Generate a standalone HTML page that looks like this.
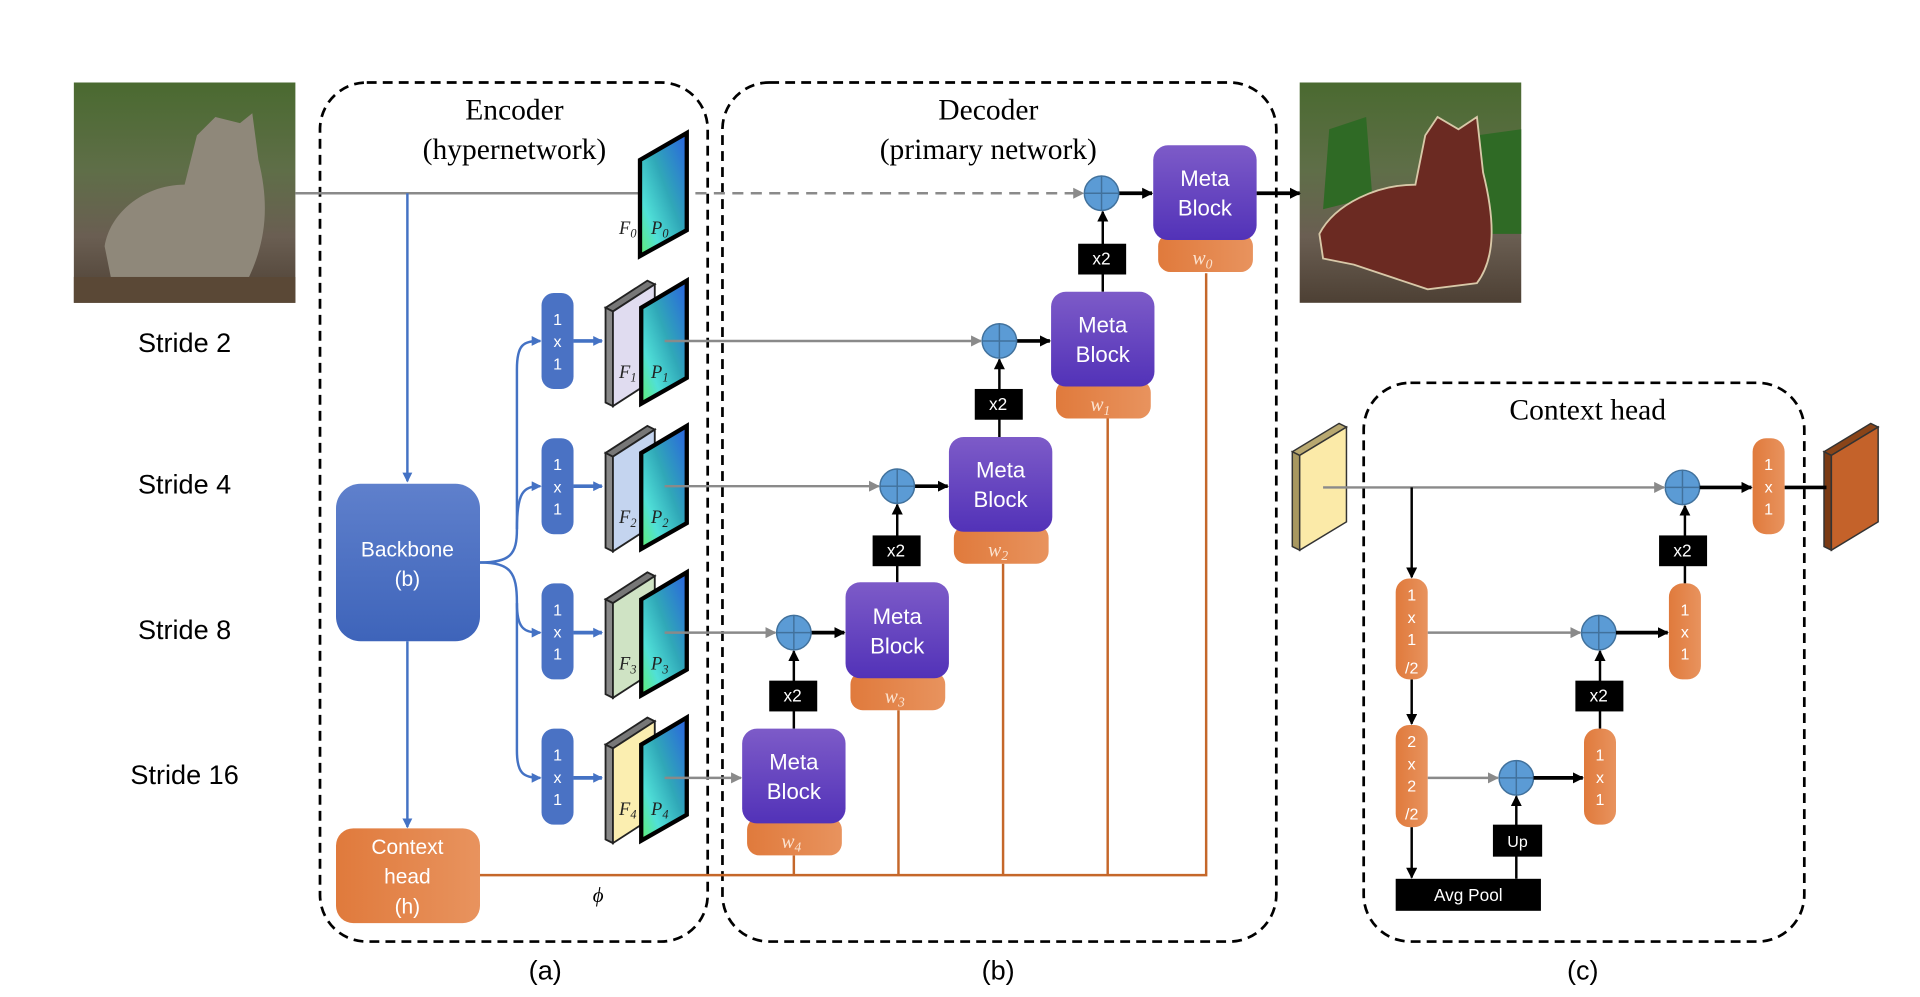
<!DOCTYPE html>
<html><head><meta charset="utf-8"><style>
html,body{margin:0;padding:0;background:#fff}
svg{display:block}
.cal{font-family:"Liberation Sans Narrow","Liberation Sans",sans-serif}
.ser{font-family:"Liberation Serif",serif}
</style></head><body>
<svg width="1920" height="997" viewBox="0 0 1560 810" xmlns="http://www.w3.org/2000/svg">
<defs>
<linearGradient id="pg" x1="1" y1="0" x2="0" y2="1"><stop offset="0" stop-color="#2a62e0"/><stop offset="0.45" stop-color="#30a8b8"/><stop offset="0.75" stop-color="#50e0d8"/><stop offset="1" stop-color="#60f070"/></linearGradient>
<linearGradient id="mb" x1="0" y1="0" x2="0" y2="1"><stop offset="0" stop-color="#7d5bc8"/><stop offset="1" stop-color="#5232b8"/></linearGradient>
<linearGradient id="bb" x1="0" y1="0" x2="0" y2="1"><stop offset="0" stop-color="#5f80cc"/><stop offset="1" stop-color="#3e64ba"/></linearGradient>
<linearGradient id="og" x1="0" y1="0" x2="1" y2="0"><stop offset="0" stop-color="#e07a3c"/><stop offset="1" stop-color="#e8935e"/></linearGradient>
<linearGradient id="cat" x1="0" y1="0" x2="0" y2="1"><stop offset="0" stop-color="#4a6a30"/><stop offset="0.4" stop-color="#5f6e48"/><stop offset="0.7" stop-color="#6a5e52"/><stop offset="1" stop-color="#4d4034"/></linearGradient>
<marker id="ab" markerWidth="8" markerHeight="8" refX="7" refY="4" orient="auto" markerUnits="userSpaceOnUse"><path d="M0,0 L8,4 L0,8z" fill="#4472c4"/></marker>
<marker id="ak" markerWidth="9" markerHeight="9" refX="8" refY="4.5" orient="auto" markerUnits="userSpaceOnUse"><path d="M0,0 L9,4.5 L0,9z" fill="#000"/></marker>
<marker id="ag" markerWidth="9" markerHeight="9" refX="8" refY="4.5" orient="auto" markerUnits="userSpaceOnUse"><path d="M0,0 L9,4.5 L0,9z" fill="#8a8a8a"/></marker>
</defs>

<!-- images -->
<rect x="60" y="67" width="180" height="179" fill="url(#cat)"/>
<ellipse cx="185" cy="150" rx="18" ry="22" fill="#b08050"/>
<path d="M85,200 C90,170 120,150 150,150 L160,110 L175,95 L195,100 L205,92 L210,130 C220,170 215,200 200,230 L90,225z" fill="#8f887a"/>
<rect x="60" y="225" width="180" height="21" fill="#5a4836"/>
<rect x="1056" y="67" width="180" height="179" fill="url(#cat)"/>
<path d="M1080,105 L1110,95 L1115,160 L1075,170z" fill="#2f6a25"/>
<path d="M1200,110 L1236,105 L1236,190 L1205,190z" fill="#2f6a25"/>
<path d="M1072,190 C1085,165 1120,150 1150,150 L1158,110 L1168,95 L1185,105 L1200,95 L1205,140 C1215,180 1215,210 1200,230 L1160,235 L1100,215 L1075,210z" fill="#6b2a22" stroke="#d8c8a8" stroke-width="1.5"/>

<!-- strides -->
<g class="cal" font-size="22" fill="#000" text-anchor="middle">
<text x="150" y="286">Stride 2</text><text x="150" y="401">Stride 4</text>
<text x="150" y="519">Stride 8</text><text x="150" y="637">Stride 16</text>
<text x="443" y="796">(a)</text><text x="811" y="796">(b)</text><text x="1286" y="796">(c)</text>
</g>

<!-- dashed boxes -->
<g fill="none" stroke="#000" stroke-width="2.2" stroke-dasharray="8,5">
<rect x="260" y="67" width="315" height="698" rx="38"/>
<rect x="587" y="67" width="450" height="698" rx="38"/>
<rect x="1108" y="311" width="358" height="454" rx="38"/>
</g>
<g class="ser" font-size="24" text-anchor="middle" fill="#000">
<text x="418" y="97">Encoder</text><text x="418" y="129">(hypernetwork)</text>
<text x="803" y="97">Decoder</text><text x="803" y="129">(primary network)</text>
<text x="1290" y="341">Context head</text>
</g>

<!-- top line -->
<line x1="240" y1="157" x2="520" y2="157" stroke="#8a8a8a" stroke-width="2"/>
<line x1="535" y1="157" x2="880" y2="157" stroke="#8a8a8a" stroke-width="2" stroke-dasharray="9,6" marker-end="url(#ag)"/>

<!-- encoder blue -->
<g stroke="#4472c4" stroke-width="2" fill="none">
<line x1="331" y1="157" x2="331" y2="391" marker-end="url(#ab)"/>
<line x1="331" y1="521" x2="331" y2="672" marker-end="url(#ab)"/>
<path d="M390,457 C415,457 420,450 420,430 L420,300 C420,280 425,277 439,277" marker-end="url(#ab)"/>
<path d="M420,430 C420,400 425,395 439,395" marker-end="url(#ab)"/>
<path d="M390,457 C415,457 420,465 420,490 C420,510 425,514 439,514" marker-end="url(#ab)"/>
<path d="M420,490 L420,610 C420,628 425,632 439,632" marker-end="url(#ab)"/>
<line x1="466" y1="277" x2="489" y2="277" stroke-width="3" marker-end="url(#ab)"/>
<line x1="466" y1="395" x2="489" y2="395" stroke-width="3" marker-end="url(#ab)"/>
<line x1="466" y1="514" x2="489" y2="514" stroke-width="3" marker-end="url(#ab)"/>
<line x1="466" y1="632" x2="489" y2="632" stroke-width="3" marker-end="url(#ab)"/>
</g>
<rect x="273" y="393" width="117" height="128" rx="20" fill="url(#bb)"/>
<text class="cal" x="331" y="452" font-size="17" fill="#fff" text-anchor="middle">Backbone</text>
<text class="cal" x="331" y="476" font-size="17" fill="#fff" text-anchor="middle">(b)</text>
<rect x="273" y="673" width="117" height="77" rx="14" fill="url(#og)"/>
<g class="cal" font-size="17" fill="#fff" text-anchor="middle"><text x="331" y="694">Context</text><text x="331" y="718">head</text><text x="331" y="742">(h)</text></g>

<!-- 1x1 blue -->
<g fill="#4a72c4"><rect x="440" y="238" width="26" height="78" rx="10"/><rect x="440" y="356" width="26" height="78" rx="10"/><rect x="440" y="474" width="26" height="78" rx="10"/><rect x="440" y="592" width="26" height="78" rx="10"/></g>
<g class="cal" font-size="13" fill="#fff" text-anchor="middle">
<text x="453" y="264">1</text><text x="453" y="282">x</text><text x="453" y="300">1</text>
<text x="453" y="382">1</text><text x="453" y="400">x</text><text x="453" y="418">1</text>
<text x="453" y="500">1</text><text x="453" y="518">x</text><text x="453" y="536">1</text>
<text x="453" y="618">1</text><text x="453" y="636">x</text><text x="453" y="654">1</text>
</g>

<!-- plates -->
<g stroke="#222" stroke-width="1.5">
<path d="M492,250 L526,228 L532,231 L498,253z" fill="#777"/><path d="M492,250 L498,253 L498,330 L492,327z" fill="#888"/><path d="M498,253 L532,231 L532,308 L498,330z" fill="#e0dcf0"/>
<path d="M492,368 L526,346 L532,349 L498,371z" fill="#777"/><path d="M492,368 L498,371 L498,448 L492,445z" fill="#888"/><path d="M498,371 L532,349 L532,426 L498,448z" fill="#c4d4ef"/>
<path d="M492,487 L526,465 L532,468 L498,490z" fill="#777"/><path d="M492,487 L498,490 L498,567 L492,564z" fill="#888"/><path d="M498,490 L532,468 L532,545 L498,567z" fill="#cfe3c4"/>
<path d="M492,605 L526,583 L532,586 L498,608z" fill="#777"/><path d="M492,605 L498,608 L498,685 L492,682z" fill="#888"/><path d="M498,608 L532,586 L532,663 L498,685z" fill="#fbeeb0"/>
</g>
<g stroke="#000" stroke-width="3.5" fill="url(#pg)">
<path d="M520,130 L558,108 L558,187 L520,208z"/>
<path d="M521,250 L558,228 L558,307 L521,328z"/>
<path d="M521,368 L558,346 L558,425 L521,446z"/>
<path d="M521,487 L558,465 L558,544 L521,565z"/>
<path d="M521,605 L558,583 L558,662 L521,683z"/>
</g>
<g class="ser" font-style="italic" font-size="15" fill="#222">
<text x="503" y="190">F<tspan font-size="10" dy="3">0</tspan></text><text x="529" y="190">P<tspan font-size="10" dy="3">0</tspan></text>
<text x="503" y="307">F<tspan font-size="10" dy="3">1</tspan></text><text x="529" y="307">P<tspan font-size="10" dy="3">1</tspan></text>
<text x="503" y="425">F<tspan font-size="10" dy="3">2</tspan></text><text x="529" y="425">P<tspan font-size="10" dy="3">2</tspan></text>
<text x="503" y="544">F<tspan font-size="10" dy="3">3</tspan></text><text x="529" y="544">P<tspan font-size="10" dy="3">3</tspan></text>
<text x="503" y="662">F<tspan font-size="10" dy="3">4</tspan></text><text x="529" y="662">P<tspan font-size="10" dy="3">4</tspan></text>
</g>

<!-- grey lines P->circle -->
<g stroke="#8a8a8a" stroke-width="2">
<line x1="540" y1="277" x2="797" y2="277" marker-end="url(#ag)"/>
<line x1="540" y1="395" x2="714" y2="395" marker-end="url(#ag)"/>
<line x1="540" y1="514" x2="630" y2="514" marker-end="url(#ag)"/>
<line x1="540" y1="632" x2="602" y2="632" marker-end="url(#ag)"/>
</g>

<!-- orange lines -->
<g stroke="#c5672a" stroke-width="2" fill="none">
<polyline points="390,711 980,711 980,222"/>
<line x1="645" y1="695" x2="645" y2="711"/><line x1="730" y1="577" x2="730" y2="711"/>
<line x1="815" y1="458" x2="815" y2="711"/><line x1="900" y1="340" x2="900" y2="711"/>
</g>
<text class="ser" font-style="italic" x="486" y="733" font-size="17" text-anchor="middle">ϕ</text>

<!-- black vertical lines with x2 -->
<g stroke="#000" stroke-width="2">
<line x1="896" y1="237" x2="896" y2="172" marker-end="url(#ak)"/>
<line x1="812" y1="355" x2="812" y2="292" marker-end="url(#ak)"/>
<line x1="729" y1="473" x2="729" y2="410" marker-end="url(#ak)"/>
<line x1="645" y1="592" x2="645" y2="529" marker-end="url(#ak)"/>
<line x1="909" y1="157" x2="936" y2="157" stroke-width="3" marker-end="url(#ak)"/>
<line x1="826" y1="277" x2="853" y2="277" stroke-width="3" marker-end="url(#ak)"/>
<line x1="743" y1="395" x2="770" y2="395" stroke-width="3" marker-end="url(#ak)"/>
<line x1="659" y1="514" x2="686" y2="514" stroke-width="3" marker-end="url(#ak)"/>
<line x1="1021" y1="157" x2="1056" y2="157" stroke-width="3" marker-end="url(#ak)"/>
</g>
<g fill="#000"><rect x="876" y="198" width="39" height="25"/><rect x="792" y="316" width="39" height="25"/><rect x="709" y="435" width="39" height="25"/><rect x="625" y="553" width="39" height="25"/></g>
<g class="cal" font-size="14" fill="#fff" text-anchor="middle"><text x="895" y="215">x2</text><text x="811" y="333">x2</text><text x="728" y="452">x2</text><text x="644" y="570">x2</text></g>

<!-- circles -->
<g fill="#5b9bd5" stroke="#41719c" stroke-width="1.2">
<circle cx="895" cy="157" r="14"/><circle cx="812" cy="277" r="14"/><circle cx="729" cy="395" r="14"/><circle cx="645" cy="514" r="14"/>
<circle cx="1367" cy="396" r="14"/><circle cx="1299" cy="514" r="14"/><circle cx="1232" cy="632" r="14"/>
</g>
<g stroke="#41719c" stroke-width="1.2">
<path d="M881,157h28M895,143v28M798,277h28M812,263v28M715,395h28M729,381v28M631,514h28M645,500v28M1353,396h28M1367,382v28M1285,514h28M1299,500v28M1218,632h28M1232,618v28"/>
</g>

<!-- meta blocks -->
<g fill="url(#og)"><rect x="941" y="190" width="77" height="31" rx="10"/><rect x="858" y="309" width="77" height="31" rx="10"/><rect x="775" y="427" width="77" height="31" rx="10"/><rect x="691" y="546" width="77" height="31" rx="10"/><rect x="607" y="664" width="77" height="31" rx="10"/></g>
<g fill="url(#mb)"><rect x="937" y="118" width="84" height="77" rx="12"/><rect x="854" y="237" width="84" height="77" rx="12"/><rect x="771" y="355" width="84" height="77" rx="12"/><rect x="687" y="473" width="84" height="78" rx="12"/><rect x="603" y="592" width="84" height="77" rx="12"/></g>
<g class="cal" font-size="18" fill="#fff" text-anchor="middle">
<text x="979" y="151">Meta</text><text x="979" y="175">Block</text>
<text x="896" y="270">Meta</text><text x="896" y="294">Block</text>
<text x="813" y="388">Meta</text><text x="813" y="412">Block</text>
<text x="729" y="507">Meta</text><text x="729" y="531">Block</text>
<text x="645" y="625">Meta</text><text x="645" y="649">Block</text>
</g>
<g class="ser" font-style="italic" font-size="16" fill="#fbe3d0" text-anchor="middle">
<text x="977" y="215">w<tspan font-size="11" dy="3">0</tspan></text><text x="894" y="334">w<tspan font-size="11" dy="3">1</tspan></text>
<text x="811" y="452">w<tspan font-size="11" dy="3">2</tspan></text><text x="727" y="571">w<tspan font-size="11" dy="3">3</tspan></text>
<text x="643" y="689">w<tspan font-size="11" dy="3">4</tspan></text>
</g>

<!-- context head detail -->
<path d="M1050,367 L1088,344 L1094,347 L1056,370z" fill="#b8a870" stroke="#333" stroke-width="1.2"/>
<path d="M1050,367 L1056,370 L1056,447 L1050,444z" fill="#a89860" stroke="#333" stroke-width="1.2"/>
<path d="M1056,370 L1094,347 L1094,424 L1056,447z" fill="#fbeaa8" stroke="#333" stroke-width="1.2"/>
<path d="M1482,367 L1520,344 L1526,347 L1488,370z" fill="#8a4418" stroke="#333" stroke-width="1.2"/>
<path d="M1482,367 L1488,370 L1488,447 L1482,444z" fill="#7a3a14" stroke="#333" stroke-width="1.2"/>
<path d="M1488,370 L1526,347 L1526,424 L1488,447z" fill="#c4622a" stroke="#333" stroke-width="1.2"/>

<g stroke="#8a8a8a" stroke-width="2">
<line x1="1075" y1="396" x2="1352" y2="396" marker-end="url(#ag)"/>
<line x1="1160" y1="514" x2="1284" y2="514" marker-end="url(#ag)"/>
<line x1="1160" y1="632" x2="1217" y2="632" marker-end="url(#ag)"/>
</g>
<g stroke="#000" stroke-width="2">
<line x1="1147" y1="396" x2="1147" y2="469" marker-end="url(#ak)"/>
<line x1="1147" y1="552" x2="1147" y2="588" marker-end="url(#ak)"/>
<line x1="1147" y1="672" x2="1147" y2="713" marker-end="url(#ak)"/>
<line x1="1232" y1="714" x2="1232" y2="647" marker-end="url(#ak)"/>
<line x1="1300" y1="592" x2="1300" y2="529" marker-end="url(#ak)"/>
<line x1="1369" y1="474" x2="1369" y2="411" marker-end="url(#ak)"/>
<line x1="1246" y1="632" x2="1286" y2="632" stroke-width="3" marker-end="url(#ak)"/>
<line x1="1313" y1="514" x2="1355" y2="514" stroke-width="3" marker-end="url(#ak)"/>
<line x1="1381" y1="396" x2="1423" y2="396" stroke-width="3" marker-end="url(#ak)"/>
<line x1="1450" y1="396" x2="1484" y2="396" stroke-width="3"/>
</g>
<g fill="url(#og)">
<rect x="1134" y="470" width="26" height="82" rx="11"/><rect x="1134" y="589" width="26" height="83" rx="11"/>
<rect x="1424" y="356" width="26" height="78" rx="11"/><rect x="1356" y="474" width="26" height="78" rx="11"/><rect x="1287" y="592" width="26" height="78" rx="11"/>
</g>
<g class="cal" font-size="13" fill="#fff" text-anchor="middle">
<text x="1147" y="488">1</text><text x="1147" y="506">x</text><text x="1147" y="524">1</text><text x="1147" y="547">/2</text>
<text x="1147" y="607">2</text><text x="1147" y="625">x</text><text x="1147" y="643">2</text><text x="1147" y="666">/2</text>
<text x="1437" y="382">1</text><text x="1437" y="400">x</text><text x="1437" y="418">1</text>
<text x="1369" y="500">1</text><text x="1369" y="518">x</text><text x="1369" y="536">1</text>
<text x="1300" y="618">1</text><text x="1300" y="636">x</text><text x="1300" y="654">1</text>
</g>
<g fill="#000"><rect x="1134" y="714" width="118" height="26"/><rect x="1213" y="670" width="40" height="26"/><rect x="1280" y="553" width="39" height="25"/><rect x="1348" y="435" width="39" height="25"/></g>
<g class="cal" fill="#fff" text-anchor="middle">
<text x="1193" y="732" font-size="14">Avg Pool</text><text x="1233" y="688" font-size="13">Up</text>
<text x="1299" y="570" font-size="14">x2</text><text x="1367" y="452" font-size="14">x2</text>
</g>
</svg>
</body></html>
